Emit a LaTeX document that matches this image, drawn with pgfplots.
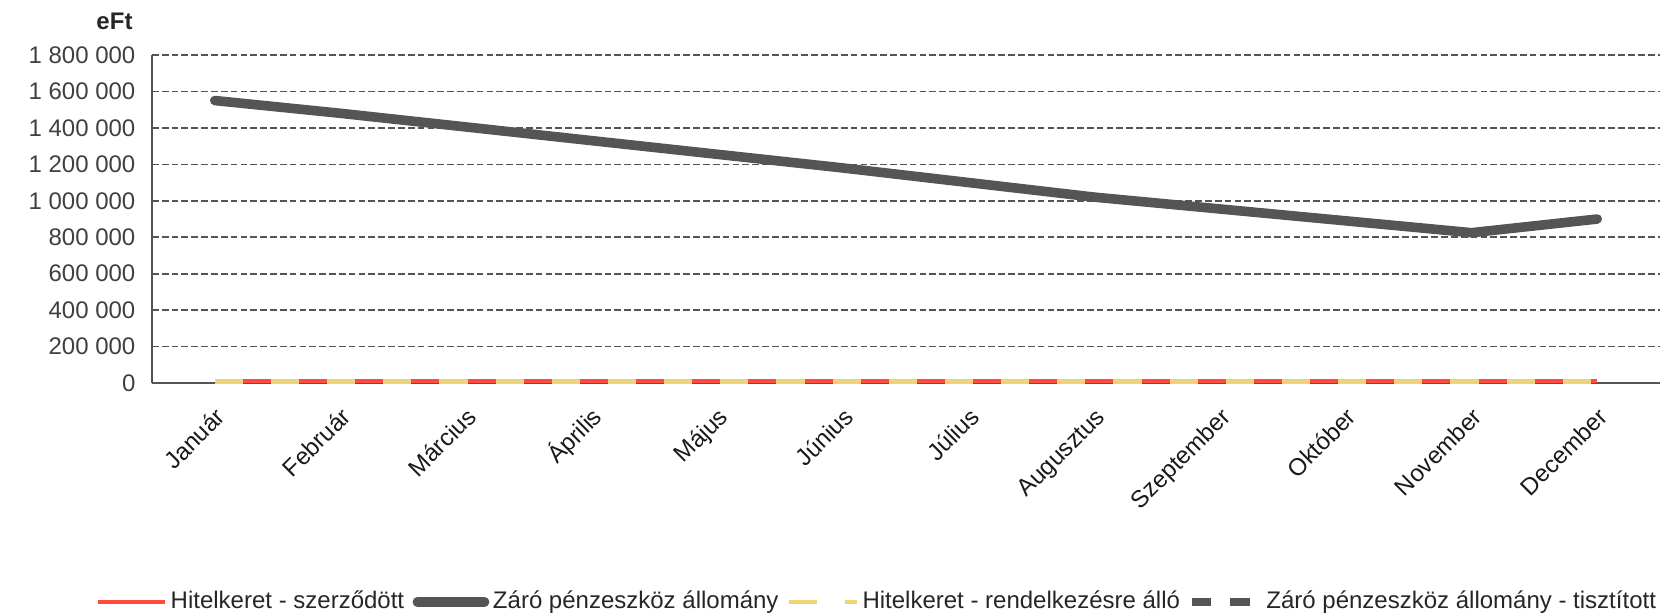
\documentclass[border=0pt]{standalone}
\usepackage{pgfplots}
\pgfplotsset{compat=1.18}
\usepackage{fontspec}
\setmainfont{Liberation Sans}
\usetikzlibrary{calc}

\definecolor{zaro}{HTML}{555555}
\definecolor{hitel}{HTML}{FF4B3E}
\definecolor{rend}{HTML}{EFD37A}
\definecolor{racs}{HTML}{555555}

\begin{document}
\begin{tikzpicture}
\begin{axis}[
    name=ax,
    scale only axis,
    width=628.3pt, height=136.7pt,
    xmin=-0.5, xmax=11.5,
    ymin=0, ymax=1800000,
    scaled y ticks=false,
    xtick={0,...,11},
    xticklabels={Január,Február,Március,Április,Május,Június,Július,Augusztus,Szeptember,Október,November,December},
    ytick={0,200000,400000,600000,800000,1000000,1200000,1400000,1600000,1800000},
    yticklabels={0,200 000,400 000,600 000,800 000,1 000 000,1 200 000,1 400 000,1 600 000,1 800 000},
    axis x line*=bottom, axis y line*=left,
    axis line style={-, draw=zaro, line width=0.8pt},
    major tick length=0pt,
    ymajorgrids,
    major grid style={racs, line width=0.7pt, dash pattern=on 2.8pt off 1.3pt},
    tick label style={font=\fontsize{10}{12}\selectfont},
    yticklabel style={text=black!75, anchor=east, inner sep=0pt, xshift=-6.7pt},
    xticklabel style={text=black!90, xshift=5pt, yshift=-14.7pt, rotate=45, anchor=base east, inner sep=0pt},
    legend columns=4,
    legend image code/.code={\draw[#1] (0pt,0pt) -- (28pt,0pt);},
    legend style={at={(1,-0.667)}, anchor=east, draw=none, fill=none, inner sep=0pt,
        font=\fontsize{10}{12}\selectfont, text=black!85,
        nodes={inner xsep=1.5pt, inner ysep=0pt},
        /tikz/every even column/.append style={column sep=2pt}},
    clip=false,
]

% Hitelkeret - szerzodott
\addplot[hitel, line width=1.8pt] coordinates {
    (0,10000) (1,10000) (2,10000) (3,10000) (4,10000) (5,10000)
    (6,10000) (7,10000) (8,10000) (9,10000) (10,10000) (11,10000)
};
\addlegendentry{Hitelkeret - szerződött}

% Zaro penzeszkoz allomany
\addplot[zaro, line width=4pt, line cap=round, line join=round] coordinates {
    (0,1550000) (1,1480000) (2,1405000) (3,1330000) (4,1255000) (5,1180000)
    (6,1100000) (7,1020000) (8,955000) (9,890000) (10,825000) (11,900000)
};
\addlegendentry{Záró pénzeszköz állomány}

% Hitelkeret - rendelkezesre allo
\addplot[rend, line width=2pt, dash pattern=on 11.7pt off 11.7pt] coordinates {
    (0,10000) (1,10000) (2,10000) (3,10000) (4,10000) (5,10000)
    (6,10000) (7,10000) (8,10000) (9,10000) (10,10000) (11,10000)
};
\addlegendentry{Hitelkeret - rendelkezésre álló}

\addlegendimage{zaro, line width=3pt, dash pattern=on 8pt off 8pt on 8pt}
\addlegendentry{Záró pénzeszköz állomány - tisztított}

\node[font=\fontsize{10}{12}\selectfont\bfseries, text=black!85] at ([xshift=-15.6pt, yshift=14.2pt]rel axis cs:0,1) {eFt};
\end{axis}
\path ($(ax.south west)+(-63.3pt,-96.65pt)$) rectangle ($(ax.north east)+(2.05pt,22.9pt)$);
\end{tikzpicture}
\end{document}
